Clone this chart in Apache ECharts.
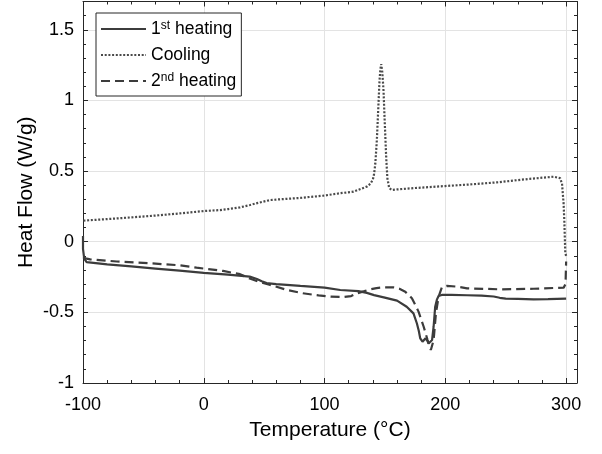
<!DOCTYPE html>
<html>
<head>
<meta charset="utf-8">
<title>DSC</title>
<script src="https://cdn.jsdelivr.net/npm/echarts@6.0.0/dist/echarts.min.js"></script>
<style>
  html, body { margin: 0; padding: 0; background: #fff; }
  #chart { width: 602px; height: 454px; }
</style>
</head>
<body>
<div id="chart"></div>
<script>
// [temperature (°C), heat flow (W/g)]
const firstHeating = [
  [-100, 0.04], [-100, -0.05], [-99, -0.12], [-97, -0.145], [-80, -0.16], [-60, -0.175],
  [-40, -0.19], [-20, -0.205], [0, -0.22], [20, -0.233], [38, -0.247], [44, -0.264],
  [48, -0.28], [52, -0.293], [60, -0.3], [80, -0.313], [100, -0.325], [113, -0.342],
  [128, -0.35], [135, -0.362], [141, -0.378], [149, -0.394], [160, -0.417], [168, -0.46],
  [173.6, -0.507], [176.4, -0.577], [178, -0.63], [179.2, -0.684], [181.1, -0.708],
  [182.5, -0.695], [183.6, -0.684], [185, -0.7], [186.1, -0.72], [187.5, -0.71],
  [189, -0.696], [190.3, -0.6], [191.6, -0.46], [193, -0.41], [194.4, -0.384],
  [197, -0.377], [205, -0.377], [218, -0.379], [230, -0.382], [240, -0.388],
  [245, -0.397], [250, -0.403], [260, -0.405], [273, -0.408], [285, -0.407], [300, -0.403]
]

const cooling = [
  [300, -0.1], [299.3, -0.08], [298.5, 0.15], [297.9, 0.27], [296.6, 0.41], [295, 0.45],
  [293.8, 0.456], [289.6, 0.46], [270, 0.445], [242.7, 0.42], [220, 0.405], [199.9, 0.394],
  [175, 0.38], [160, 0.37], [155.7, 0.366], [153.5, 0.38], [152, 0.45], [151, 0.6],
  [149.8, 0.85], [148.8, 1.07], [147.8, 1.2], [146.9, 1.257], [146.2, 1.22], [145.5, 1.14],
  [144.5, 0.95], [143.3, 0.72], [142, 0.55], [141, 0.48], [140, 0.44], [138, 0.41],
  [135, 0.39], [133.6, 0.385], [124, 0.354], [113, 0.343], [99.1, 0.326], [80, 0.31],
  [55, 0.295], [45, 0.275], [38.4, 0.26], [30, 0.243], [20.4, 0.231], [13.5, 0.224],
  [0, 0.217], [-20, 0.2], [-40, 0.185], [-60, 0.172], [-80, 0.16], [-100, 0.149]
]

const secondHeating = [
  [-100, -0.11], [-97, -0.12], [-94, -0.125], [-72, -0.14], [-44, -0.153], [-20, -0.167],
  [-6, -0.184], [0, -0.19], [16, -0.207], [30, -0.23], [38, -0.26], [46, -0.285],
  [55, -0.306], [69, -0.342], [82, -0.365], [95, -0.38], [105, -0.389], [116, -0.391],
  [122, -0.385], [127, -0.365], [133, -0.35], [138, -0.337], [143, -0.328], [149, -0.323],
  [157, -0.323], [162, -0.333], [166.8, -0.354], [172.3, -0.4], [175, -0.445],
  [177.8, -0.495], [180, -0.55], [182, -0.6], [185.3, -0.696], [188, -0.766],
  [190.3, -0.696], [192.2, -0.507], [194.4, -0.39], [197.1, -0.323], [201.3, -0.313],
  [209.6, -0.318], [218, -0.33], [245, -0.337], [273, -0.333], [298, -0.325],
  [299.5, -0.3], [300, -0.14]
]

const seriesNames = ['1st heating', 'Cooling', '2nd heating']
const legendLabels = {
  '1st heating': '{base|1}{sup|st}{base| heating}',
  'Cooling': '{base|Cooling}',
  '2nd heating': '{base|2}{sup|nd}{base| heating}'
}

const axisColor = '#262626'
const gridColor = '#e3e3e3'
const fontFamily = 'Liberation Sans, Arial, sans-serif'

function boxAxis(extra) {
  return Object.assign({
    type: 'value',
    axisLine: { show: true, onZero: false, lineStyle: { color: axisColor, width: 1 } },
    axisTick: { show: true, inside: true, length: 5, lineStyle: { color: axisColor } },
    minorTick: { show: true, splitNumber: 5, length: 3, lineStyle: { color: axisColor } },
    splitLine: { show: false },
    axisLabel: { show: false }
  }, extra)
}

const chart = echarts.init(document.getElementById('chart'), null, { renderer: 'canvas' })

chart.setOption({
  animation: false,
  textStyle: { fontFamily },
  grid: { left: 83, right: 25, top: 1.5, bottom: 71 },
  legend: {
    data: seriesNames,
    orient: 'vertical',
    left: 96,
    top: 13,
    itemWidth: 45,
    itemHeight: 18,
    itemGap: 8,
    padding: [7, 5, 6, 4],
    backgroundColor: '#fff',
    borderColor: axisColor,
    borderWidth: 1,
    borderRadius: 0,
    itemStyle: { opacity: 0 },
    formatter: name => legendLabels[name],
    textStyle: {
      color: '#000',
      fontFamily,
      rich: {
        base: { fontSize: 17.5, color: '#000', fontFamily, lineHeight: 18, verticalAlign: 'bottom' },
        sup: { fontSize: 12, color: '#000', fontFamily, lineHeight: 12, verticalAlign: 'top' }
      }
    }
  },
  xAxis: [
    boxAxis({
      position: 'bottom',
      min: -100,
      max: 309,
      interval: 100,
      splitLine: { show: true, lineStyle: { color: gridColor } },
      axisLabel: { show: true, fontSize: 18, color: '#000', margin: 13, showMaxLabel: false, fontFamily },
      name: 'Temperature (°C)',
      nameLocation: 'middle',
      nameGap: 37,
      nameMoveOverlap: false,
      nameTextStyle: { fontSize: 21, color: '#000', fontFamily }
    }),
    boxAxis({ position: 'top', min: -100, max: 309, interval: 100 })
  ],
  yAxis: [
    boxAxis({
      position: 'left',
      min: -1,
      max: 1.7,
      interval: 0.5,
      splitLine: { show: true, lineStyle: { color: gridColor } },
      axisLabel: { show: true, fontSize: 18, color: '#000', margin: 9, showMaxLabel: false, fontFamily },
      name: 'Heat Flow (W/g)',
      nameLocation: 'middle',
      nameGap: 46,
      nameMoveOverlap: false,
      nameTextStyle: { fontSize: 21, color: '#000', fontFamily }
    }),
    boxAxis({ position: 'right', min: -1, max: 1.7, interval: 0.5 })
  ],
  series: [{
    name: seriesNames[0],
    type: 'line',
    data: firstHeating,
    symbol: 'none',
    lineStyle: { color: '#3c3c3c', width: 2.2, type: 'solid' },
    itemStyle: { color: '#3c3c3c' },
    z: 3
  }, {
    name: seriesNames[1],
    type: 'line',
    data: cooling,
    symbol: 'none',
    lineStyle: { color: '#4a4a4a', width: 2.2, type: [2, 1.7] },
    itemStyle: { color: '#4a4a4a' },
    z: 2
  }, {
    name: seriesNames[2],
    type: 'line',
    data: secondHeating,
    symbol: 'none',
    lineStyle: { color: '#3c3c3c', width: 2.2, type: [9, 5] },
    itemStyle: { color: '#3c3c3c' },
    z: 2
  }]
})
</script>
</body>
</html>
